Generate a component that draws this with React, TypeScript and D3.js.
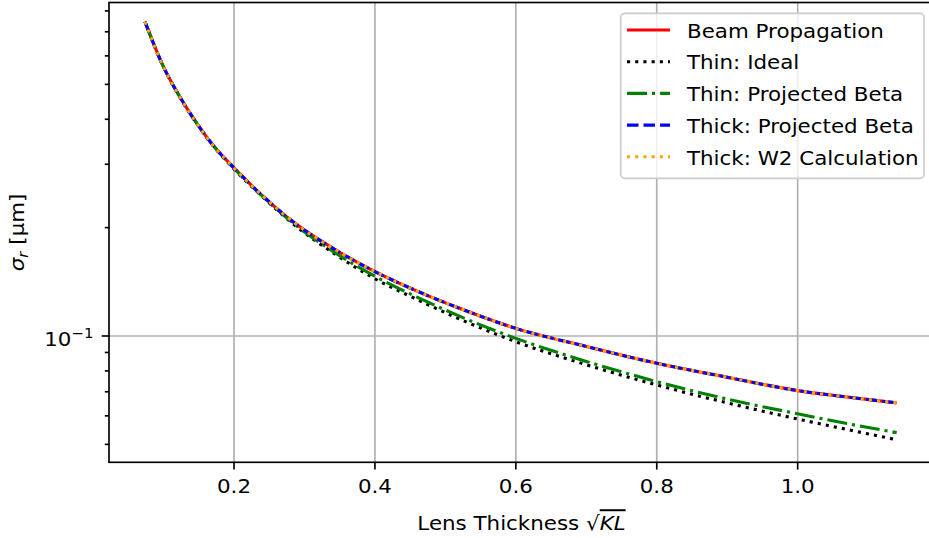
import React from "react";
import * as d3 from "d3";

// ---- data ----
const xs = [0.0737, 0.0996, 0.1233, 0.147, 0.1706, 0.2, 0.2416, 0.289, 0.341, 0.4, 0.459, 0.52, 0.6, 0.7, 0.8, 0.9, 1.0, 1.07, 1.1405];
const beamPropagation = [0.746, 0.561, 0.461, 0.39, 0.338, 0.293, 0.244, 0.204, 0.175, 0.151, 0.1335, 0.1194, 0.105, 0.0935, 0.084, 0.0768, 0.0705, 0.0677, 0.0652];
const thinIdeal = [0.746, 0.56, 0.46, 0.389, 0.337, 0.291, 0.2425, 0.201, 0.17, 0.1442, 0.1265, 0.1115, 0.0964, 0.0832, 0.0731, 0.0652, 0.0588, 0.055, 0.0515];
const thinProjected = [0.746, 0.561, 0.461, 0.39, 0.338, 0.292, 0.243, 0.202, 0.1715, 0.1465, 0.1285, 0.1135, 0.0985, 0.085, 0.0747, 0.0668, 0.0608, 0.0571, 0.0539];
const thickProjected = [0.746, 0.561, 0.461, 0.39, 0.338, 0.293, 0.244, 0.204, 0.175, 0.151, 0.1335, 0.1194, 0.105, 0.0935, 0.084, 0.0768, 0.0705, 0.0677, 0.0652];
const thickW2 = [0.746, 0.561, 0.461, 0.39, 0.338, 0.293, 0.244, 0.204, 0.175, 0.151, 0.1335, 0.1194, 0.105, 0.0935, 0.084, 0.0768, 0.0705, 0.0677, 0.0652];

const seriesNames = ["Beam Propagation", "Thin: Ideal", "Thin: Projected Beta", "Thick: Projected Beta", "Thick: W2 Calculation"];
const seriesValues = [beamPropagation, thinIdeal, thinProjected, thickProjected, thickW2];
const seriesColors = ["#ff0000", "#000000", "#008000", "#0000ff", "#ffa500"];
const seriesDashes = ["none", "3.1,5.1", "20,5,3.1,5", "11.5,5", "3.1,5.1"];

const xTickValues = [0.2, 0.4, 0.6, 0.8, 1.0];
const xTickLabels = ["0.2", "0.4", "0.6", "0.8", "1.0"];

const W = 929;
const H = 538;
const FONT = "DejaVu Sans, sans-serif";
const SX = 1.07; // horizontal stretch of the reference text

function Txt(props: {
  x: number;
  y: number;
  anchor?: "start" | "middle" | "end";
  size: number;
  rotate?: boolean;
  children: React.ReactNode;
}) {
  const { x, y, anchor = "start", size, rotate, children } = props;
  const tr = `translate(${x},${y})${rotate ? " rotate(-90)" : ""} scale(${SX},1)`;
  return (
    <text transform={tr} x={0} y={0} textAnchor={anchor} fontSize={size} fill="#000">
      {children}
    </text>
  );
}

export default function App() {
  const left = 109, right = 934, top = 2.5, bottom = 462.3;
  const x = d3.scaleLinear().domain([0.02257, 1.1935]).range([left, right]);
  const y = d3.scaleLog().domain([0.04458, 0.8441]).range([bottom, top]);

  const yTicks = y.ticks();
  const isMajor = (v: number) => Math.abs(Math.log10(v) - Math.round(Math.log10(v))) < 1e-6;

  const line = d3
    .line<[number, number]>()
    .x((d) => x(d[0]))
    .y((d) => y(d[1]))
    .curve(d3.curveMonotoneX);

  const lw = 3.1;
  const gridColor = "#b0b0b0";
  const spineW = 1.66;

  const legendX0 = 620.7, legendY0 = 13.3, legendX1 = 924, legendY1 = 178.3;
  const rowH = 31.7;

  return (
    <svg width={W} height={H} style={{ position: "absolute", left: 0, top: 0 }} fontFamily={FONT}>
      <rect x={0} y={0} width={W} height={H} fill="#ffffff" />
      <defs>
        <clipPath id="plotClip">
          <rect x={left} y={top} width={right - left} height={bottom - top} />
        </clipPath>
      </defs>
      {/* grid */}
      {xTickValues.map((v, i) => (
        <line key={"gx" + i} x1={x(v)} x2={x(v)} y1={top} y2={bottom} stroke={gridColor} strokeWidth={spineW} />
      ))}
      {yTicks.filter(isMajor).map((v, i) => (
        <line key={"gy" + i} x1={left} x2={right} y1={y(v)} y2={y(v)} stroke={gridColor} strokeWidth={spineW} />
      ))}
      {/* series */}
      <g clipPath="url(#plotClip)">
        {seriesValues.map((vals, si) => (
          <path
            key={"s" + si}
            d={line(xs.map((xv, i) => [xv, vals[i]] as [number, number])) || ""}
            fill="none"
            stroke={seriesColors[si]}
            strokeWidth={lw}
            strokeDasharray={seriesDashes[si]}
            strokeLinecap="butt"
            strokeLinejoin="round"
          />
        ))}
      </g>
      {/* spines */}
      <rect x={left} y={top} width={right - left} height={bottom - top} fill="none" stroke="#000" strokeWidth={spineW} />
      {/* x ticks */}
      {xTickValues.map((v, i) => (
        <g key={"xt" + i}>
          <line x1={x(v)} x2={x(v)} y1={bottom} y2={bottom + 7.3} stroke="#000" strokeWidth={spineW} />
          <Txt x={x(v)} y={493.3} anchor="middle" size={20}>
            {xTickLabels[i]}
          </Txt>
        </g>
      ))}
      {/* y ticks */}
      {yTicks.map((v, i) => (
        <line
          key={"yt" + i}
          x1={left}
          x2={left - (isMajor(v) ? 7.3 : 4.2)}
          y1={y(v)}
          y2={y(v)}
          stroke="#000"
          strokeWidth={spineW}
        />
      ))}
      {yTicks.filter(isMajor).map((v, i) => (
        <g key={"yl" + i}>
          <Txt x={71.5} y={y(v) + 10.5} anchor="end" size={20}>
            10
          </Txt>
          <Txt x={71.5} y={y(v) + 2.5} anchor="start" size={14}>
            {"\u2212" + String(-Math.round(Math.log10(v)))}
          </Txt>
        </g>
      ))}
      {/* axis labels */}
      <Txt x={(left + right) / 2} y={529.5} anchor="middle" size={20}>
        <tspan>Lens Thickness </tspan>
        <tspan>{"\u221A"}</tspan>
        <tspan fontStyle="italic" style={{ textDecoration: "overline" }}>KL</tspan>
      </Txt>
      <Txt x={24} y={(top + bottom) / 2} anchor="middle" size={20} rotate>
        <tspan fontStyle="italic">σ</tspan>
        <tspan fontStyle="italic" fontSize={14} dy={4}>r</tspan>
        <tspan dy={-4}> [μm]</tspan>
      </Txt>
      {/* legend */}
      <rect
        x={legendX0}
        y={legendY0}
        width={legendX1 - legendX0}
        height={legendY1 - legendY0}
        rx={4}
        ry={4}
        fill="#ffffff"
        fillOpacity={0.8}
        stroke="#cccccc"
        strokeWidth={1.66}
      />
      {seriesNames.map((name, i) => (
        <g key={"lg" + i}>
          <line
            x1={627}
            x2={670}
            y1={30 + rowH * i}
            y2={30 + rowH * i}
            stroke={seriesColors[i]}
            strokeWidth={lw}
            strokeDasharray={seriesDashes[i]}
          />
          <Txt x={687} y={37.7 + rowH * i} size={20}>
            {name}
          </Txt>
        </g>
      ))}
    </svg>
  );
}
